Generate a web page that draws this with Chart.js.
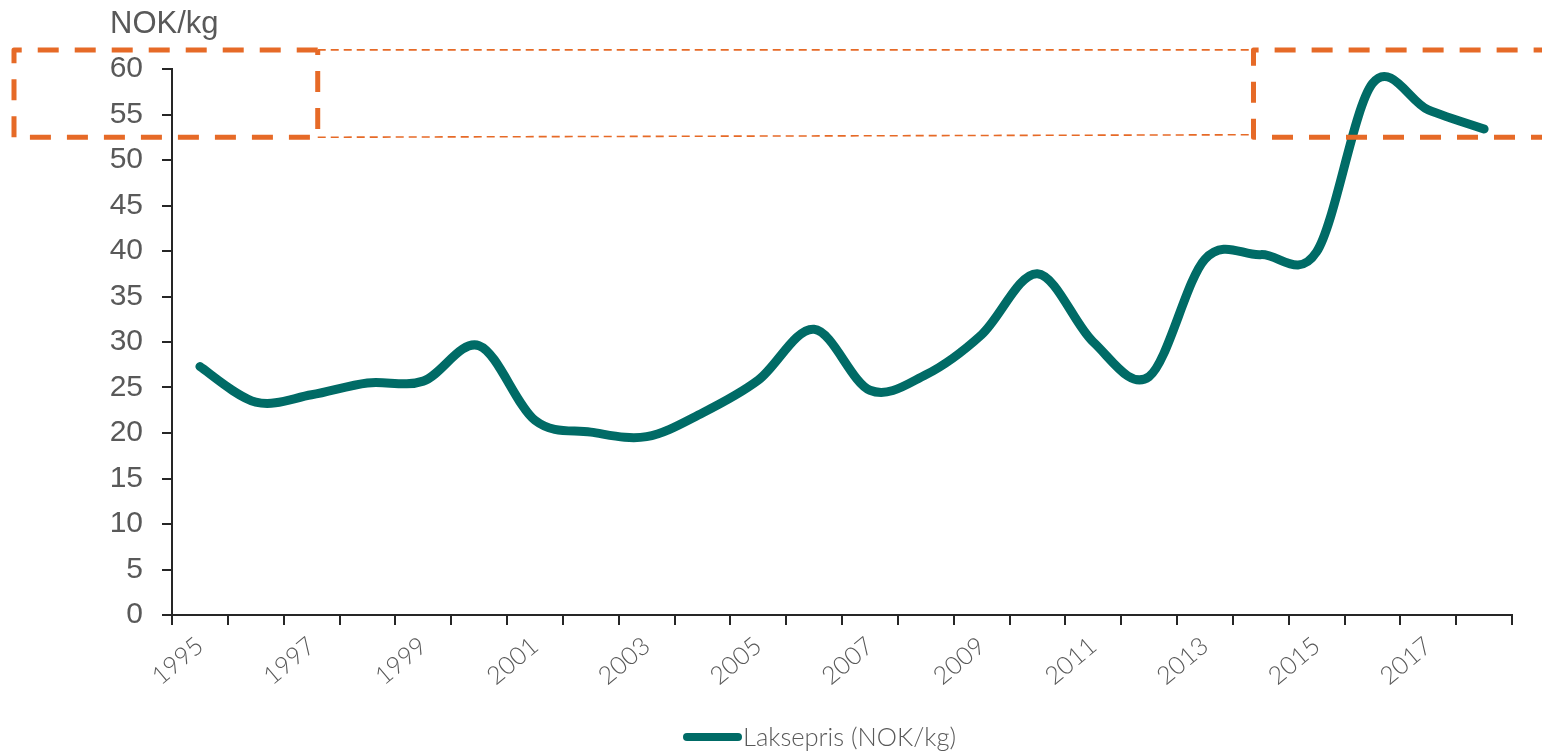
<!DOCTYPE html>
<html>
<head>
<meta charset="utf-8">
<script src="https://cdn.jsdelivr.net/npm/chart.js@4/dist/chart.umd.min.js"></script>
<style>
  html, body { margin: 0; padding: 0; background: #ffffff; }
  #wrap { width: 1542px; height: 755px; }
</style>
</head>
<body>
<div id="wrap"><canvas id="c" width="1542" height="755"></canvas></div>
<script>
// Salmon price per year, NOK/kg
const years = ['1995','1996','1997','1998','1999','2000','2001','2002','2003','2004','2005','2006',
               '2007','2008','2009','2010','2011','2012','2013','2014','2015','2016','2017','2018'];
const laksepris = [27.3, 23.4, 24.2, 25.5, 25.7, 29.6, 21.4, 20.1, 19.6, 22.2, 25.8, 31.4,
                   24.7, 26.4, 30.8, 37.5, 30.0, 26.2, 39.1, 39.6, 39.9, 58.4, 55.5, 53.4];
const seriesLabel = 'Laksepris (NOK/kg)';
const unitLabel = 'NOK/kg';
// price band that is marked with the dashed frames
const band = [52.5, 62.1];

const TEAL = '#006b66';
const ORANGE = '#e66a27';
const TEXT = '#595959';
const AXIS = '#262626';

// Catmull-Rom style control points (uniform, 1/6 of the neighbour span),
// set after the library has placed the points on the scales.
const smoothCurve = {
  id: 'smoothCurve',
  afterDatasetsUpdate(chart) {
    chart.getSortedVisibleDatasetMetas().forEach(meta => {
      const line = meta.dataset;
      const pts = meta.data;
      const n = pts.length;
      for (let i = 0; i < n; i++) {
        const p = pts[i];
        const prev = pts[Math.max(i - 1, 0)];
        const next = pts[Math.min(i + 1, n - 1)];
        const tx = (next.x - prev.x) / 6;
        const ty = (next.y - prev.y) / 6;
        p.cp1x = p.x - tx; p.cp1y = p.y - ty;
        p.cp2x = p.x + tx; p.cp2y = p.y + ty;
      }
      if (line) { line._pointsUpdated = true; line._path = undefined; }
    });
  }
};

// dashed frames marking the high price band
const bandFrames = {
  id: 'bandFrames',
  afterDraw(chart) {
    const { ctx, scales: { x, y } } = chart;
    const top = y.getPixelForValue(band[1]);
    const bot = y.getPixelForValue(band[0]);
    const leftEnd = x.getPixelForValue(2.11);
    const rightStart = x.getPixelForValue(18.87);
    ctx.save();
    ctx.strokeStyle = ORANGE;
    // thin connecting lines
    ctx.lineWidth = 1.6;
    ctx.setLineDash([8, 5]);
    ctx.beginPath();
    ctx.moveTo(leftEnd, top); ctx.lineTo(rightStart, top);
    ctx.moveTo(leftEnd, bot); ctx.lineTo(rightStart, bot - 2.5);
    ctx.stroke();
    // thick frames
    ctx.lineWidth = 5;
    ctx.lineJoin = 'round';
    ctx.setLineDash([21, 16]);
    ctx.beginPath();
    ctx.moveTo(leftEnd, top);
    ctx.lineTo(14, top);
    ctx.lineTo(14, bot);
    ctx.lineTo(leftEnd, bot);
    ctx.lineTo(leftEnd, top);
    ctx.stroke();
    ctx.beginPath();
    ctx.moveTo(chart.width + 10, bot);
    ctx.lineTo(rightStart, bot);
    ctx.lineTo(rightStart, top);
    ctx.lineTo(chart.width + 10, top);
    ctx.stroke();
    ctx.restore();
  }
};

// unit caption above the value axis and the legend below the plot
const captions = {
  id: 'captions',
  afterDraw(chart) {
    const { ctx } = chart;
    ctx.save();
    ctx.fillStyle = TEXT;
    ctx.font = '31px "Liberation Sans", Arial, sans-serif';
    ctx.textAlign = 'left';
    ctx.textBaseline = 'alphabetic';
    ctx.fillText(unitLabel, 110, 33);

    const ds = chart.data.datasets[0];
    ctx.strokeStyle = ds.borderColor;
    ctx.lineWidth = 8;
    ctx.lineCap = 'round';
    ctx.beginPath();
    ctx.moveTo(687, 737);
    ctx.lineTo(738, 737);
    ctx.stroke();
    ctx.font = '300 25.5px Lato, "Open Sans", sans-serif';
    ctx.fillStyle = TEXT;
    ctx.fillText(ds.label, 743, 746);
    ctx.restore();
  }
};

new Chart(document.getElementById('c'), {
  type: 'line',
  data: {
    labels: years,
    datasets: [{
      label: seriesLabel,
      data: laksepris,
      borderColor: TEAL,
      backgroundColor: TEAL,
      borderWidth: 9,
      borderCapStyle: 'round',
      borderJoinStyle: 'round',
      pointRadius: 0,
      pointHoverRadius: 0,
      tension: 0.4,
      fill: false
    }]
  },
  options: {
    responsive: false,
    animation: false,
    layout: { padding: { top: 69, right: 30, bottom: 0, left: 0 } },
    plugins: {
      legend: { display: false },
      tooltip: { enabled: false }
    },
    scales: {
      x: {
        type: 'category',
        offset: true,
        afterFit(scale) { scale.height = 140; },
        grid: { offset: true, drawOnChartArea: false, drawTicks: true, tickLength: 10, color: AXIS, lineWidth: 2 },
        border: { color: AXIS, width: 2 },
        ticks: {
          autoSkip: false,
          minRotation: 40,
          maxRotation: 40,
          padding: 6,
          color: TEXT,
          font: { family: 'Lato, "Open Sans", sans-serif', size: 25, weight: 300 },
          callback: (v, i) => (i % 2 === 0 ? years[i] : '')
        }
      },
      y: {
        min: 0,
        max: 60,
        afterFit(scale) { scale.width = 172; },
        grid: { drawOnChartArea: false, drawTicks: true, tickLength: 10, color: AXIS, lineWidth: 2 },
        border: { color: AXIS, width: 2 },
        ticks: {
          stepSize: 5,
          padding: 19,
          color: TEXT,
          font: { family: '"Liberation Sans", Arial, sans-serif', size: 30 }
        }
      }
    }
  },
  plugins: [smoothCurve, bandFrames, captions]
});
</script>
</body>
</html>
